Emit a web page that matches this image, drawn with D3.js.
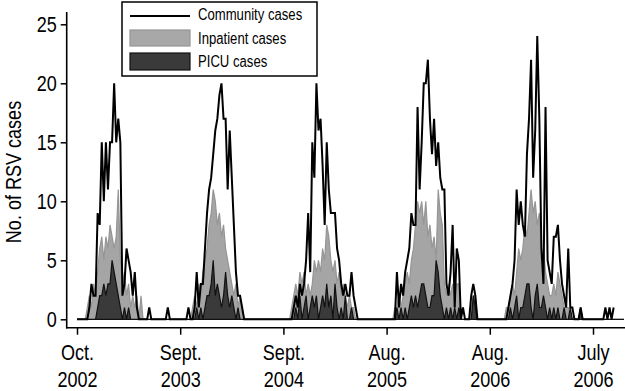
<!DOCTYPE html>
<html>
<head>
<meta charset="utf-8">
<script src="https://cdn.jsdelivr.net/npm/d3@7"></script>
<style>
  body { margin: 0; background: #fff; }
  svg { display: block; }
  text { font-family: 'Liberation Sans', Arial, sans-serif; fill: #000; }
</style>
</head>
<body>
<svg id="chart" width="625" height="391"></svg>
<script>
// weekly counts, week 0 = Oct. 2002
const community = [
  0,0,0,0,0,0,1,3,2,2,
  9,8,15,10,15,11,15,15,20,15,
  17,15,2,3,6,5,4,2,4,1,
  0,0,0,0,0,1,0,0,0,0,
  0,0,0,0,1,0,0,0,0,0,
  0,0,0,0,1,0,0,1,4,1,
  3,3,6,9,11,12,14,16,17,19,
  20,17,17,11,16,12,8,4,2,2,
  1,0,0,0,0,0,0,0,0,0,
  0,0,0,0,0,0,0,0,0,0,
  0,0,0,0,0,1,2,1,3,2,
  3,5,9,4,15,12,20,16,17,13,
  8,15,11,9,9,9,6,5,3,2,
  3,2,2,4,2,1,0,0,0,0,
  0,0,0,0,0,0,0,0,0,0,
  0,0,0,0,0,4,1,3,2,4,
  5,6,9,8,8,18,11,15,20,20,
  22,17,14,17,13,15,12,11,11,3,
  2,4,8,1,6,5,0,1,0,0,
  0,2,3,2,0,0,0,0,0,0,
  0,0,0,0,0,0,0,0,0,1,
  2,3,5,11,8,10,8,7,14,17,
  22,12,16,24,17,6,3,18,5,4,
  3,7,7,8,5,3,2,1,6,1,
  1,0,0,0,1,0,0,0,0,0,
  0,0,0,0,0,0,1,0,1,0,
  1
]
const inpatient = [
  0,0,0,0,0,1,2,1,3,2,
  4,6,7,5,7,6,8,7,6,7,
  11,5,3,4,2,3,1,2,1,2,
  0,2,0,0,0,0,0,0,0,0,
  0,0,0,0,0,0,0,0,0,0,
  0,0,0,0,0,0,1,2,1,3,
  2,4,5,6,8,9,11,10,8,9,
  7,8,6,5,4,3,2,3,1,2,
  1,0,0,0,0,0,0,0,0,0,
  0,0,0,0,0,0,0,0,0,0,
  0,0,0,0,1,2,3,2,4,3,
  4,2,3,2,3,5,4,5,4,6,
  5,8,7,5,4,5,3,4,2,3,
  2,1,2,1,1,0,0,0,0,0,
  0,0,0,0,0,0,0,0,0,0,
  0,0,0,0,1,1,2,1,2,3,
  4,3,5,6,8,10,9,10,8,10,
  7,8,6,7,5,11,9,8,3,2,
  3,2,3,2,3,3,0,0,0,0,
  0,1,2,2,0,0,0,0,0,0,
  0,0,0,0,0,0,0,0,1,1,
  2,3,2,4,6,5,6,8,7,9,
  11,9,10,8,9,5,6,4,3,2,
  2,3,2,4,3,2,1,1,1,0,
  0,0,0,0,0,0,0,0,0,0,
  0,0,0,0,0,0,0,0,0,0,
  0,0,0,0,0,0
]
const picu = [
  0,0,0,0,0,0,0,0,0,0,
  1,2,2,3,2,3,3,5,4,3,
  2,1,0,1,0,1,0,0,0,0,
  0,0,0,0,0,0,0,0,0,0,
  0,0,0,0,0,0,0,0,0,0,
  0,0,0,0,0,0,0,0,1,0,
  1,0,1,2,2,3,5,2,3,2,
  1,2,4,2,1,2,1,0,1,0,
  0,0,0,0,0,0,0,0,0,0,
  0,0,0,0,0,0,0,0,0,0,
  0,0,0,0,0,0,1,0,2,0,
  1,2,0,1,2,1,2,0,1,2,
  1,3,1,2,0,3,1,0,1,0,
  2,0,0,1,0,0,0,0,0,0,
  0,0,0,0,0,0,0,0,0,0,
  0,0,0,0,0,1,0,1,0,1,
  0,1,2,1,2,1,2,3,3,2,
  1,1,2,2,5,4,2,1,0,1,
  0,1,0,1,0,1,0,0,0,0,
  0,0,2,1,0,0,0,0,0,0,
  0,0,0,0,0,0,0,0,0,0,
  1,0,1,2,0,1,1,2,3,3,
  1,0,2,3,1,1,2,1,0,1,
  0,1,0,1,0,0,1,0,0,1,
  0,0,0,0,1,0,0,0,0,0,
  0,0,0,0,0,0,0,0,0,0,
  0,0,0,0,0,0
]

const yTicks = [0, 5, 10, 15, 20, 25]
const xTickWeeks = [0, 50, 100, 150, 200, 250]
const xTickMonths = ["Oct.", "Sept.", "Sept.", "Aug.", "Aug.", "July"]
const xTickYears = ["2002", "2003", "2004", "2005", "2006", "2006"]
const seriesNames = ["Community cases", "Inpatient cases", "PICU cases"]

// narrow look of the original type
const narrow = "scale(0.82,1)"

const svg = d3.select("#chart")

// scales
const xScale = d3.scaleLinear().domain([0, 250]).range([77, 593])
const yScale = d3.scaleLinear().domain([0, 25]).range([319.3, 24.3])

const area = d3.area()
    .x((d, i) => xScale(i))
    .y0(yScale(0))
    .y1(d => yScale(d))

const line = d3.line()
    .x((d, i) => xScale(i))
    .y(d => yScale(d))

// inpatient (grey) area
svg.append("path")
    .attr("d", area(inpatient))
    .attr("fill", "#a5a5a5")
    .attr("stroke", "#959595")
    .attr("stroke-width", 1.2)

// PICU (dark) area
svg.append("path")
    .attr("d", area(picu))
    .attr("fill", "#3a3a3a")
    .attr("stroke", "#111")
    .attr("stroke-width", 1.2)

// community line
svg.append("path")
    .attr("d", line(community))
    .attr("fill", "none")
    .attr("stroke", "#000")
    .attr("stroke-width", 2)

// axes
const axisLeft = svg.append("g")
    .attr("transform", "translate(66.7,0)")
    .call(d3.axisLeft(yScale).tickValues(yTicks).tickSize(6).tickSizeOuter(0).tickPadding(4))
axisLeft.select(".domain").remove()
axisLeft.selectAll(".tick line").attr("stroke", "#000").attr("stroke-width", 1.5)
axisLeft.selectAll(".tick text")
    .style("font-size", "22px")
    .attr("fill", "#000")
    .attr("x", -12)
    .attr("transform", narrow)

svg.append("line")
    .attr("x1", 66.7).attr("x2", 66.7)
    .attr("y1", 12).attr("y2", 328.5)
    .attr("stroke", "#000").attr("stroke-width", 1.6)

const axisBottom = svg.append("g")
    .attr("transform", "translate(0,327.7)")
    .call(d3.axisBottom(xScale).tickValues(xTickWeeks).tickSize(7).tickSizeOuter(0).tickFormat(""))
axisBottom.select(".domain").remove()
axisBottom.selectAll(".tick line").attr("stroke", "#000").attr("stroke-width", 1.5)
axisBottom.selectAll(".tick").each(function (d, i) {
    let t = d3.select(this).append("text")
        .attr("text-anchor", "middle")
        .attr("transform", narrow)
        .style("font-size", "22px")
    t.append("tspan").attr("x", 0).attr("y", 32).text(xTickMonths[i])
    t.append("tspan").attr("x", 0).attr("y", 59).text(xTickYears[i])
})

svg.append("line")
    .attr("x1", 66).attr("x2", 625)
    .attr("y1", 327.7).attr("y2", 327.7)
    .attr("stroke", "#000").attr("stroke-width", 1.6)

// y title
svg.append("text")
    .attr("transform", "translate(21,172) rotate(-90) " + narrow)
    .attr("text-anchor", "middle")
    .style("font-size", "22px")
    .text("No. of RSV cases")

// legend
const legend = svg.append("g")
legend.append("rect")
    .attr("x", 122).attr("y", 2).attr("width", 195).attr("height", 74)
    .attr("fill", "#fff").attr("stroke", "#000").attr("stroke-width", 1.5)
legend.append("line")
    .attr("x1", 130).attr("x2", 190).attr("y1", 16).attr("y2", 16)
    .attr("stroke", "#000").attr("stroke-width", 2)
legend.append("rect")
    .attr("x", 130).attr("y", 30).attr("width", 60).attr("height", 16)
    .attr("fill", "#a8a8a8").attr("stroke", "#959595").attr("stroke-width", 1.2)
legend.append("rect")
    .attr("x", 130).attr("y", 53).attr("width", 60).attr("height", 17)
    .attr("fill", "#3a3a3a").attr("stroke", "#111").attr("stroke-width", 1.2)
legend.selectAll("text.lab")
    .data(seriesNames)
    .enter()
    .append("text")
    .attr("class", "lab")
    .attr("transform", (d, i) => "translate(198," + [20, 44, 67][i] + ") " + narrow)
    .style("font-size", "16px")
    .text(d => d)
</script>
</body>
</html>
